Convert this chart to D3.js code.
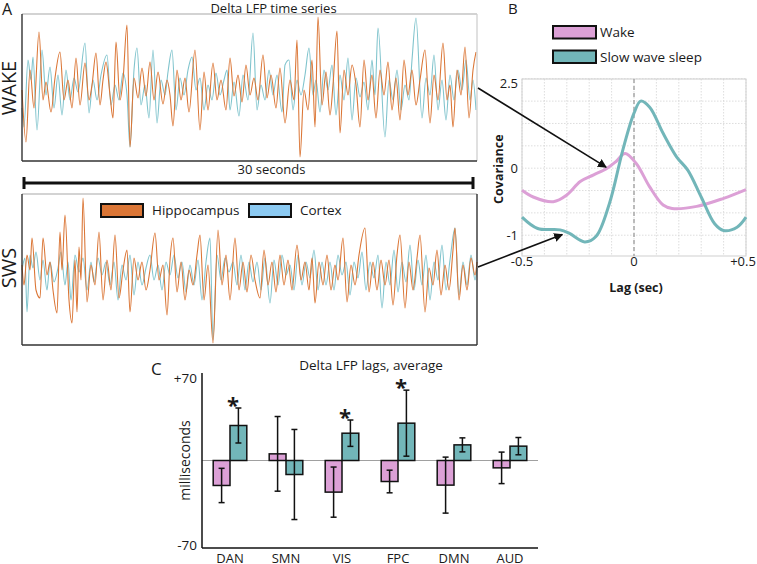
<!DOCTYPE html>
<html><head><meta charset="utf-8">
<script src="https://cdn.jsdelivr.net/npm/d3@7"></script>
<style>
body{margin:0;background:#fff}
svg{display:block}
text{font-family:'Open Sans',sans-serif;fill:#1a1a1a}
</style>
</head><body>
<svg id="c" width="757" height="564"></svg>
<script>
// ---------------- DATA ----------------
// Panel A: delta LFP traces, [sample index, amplitude]; 455 samples over 30 s
const lfpDuration = 30;
const lfpSamples = 455;
const wakeHippocampus = [[0,-2],[4,-54],[8,18],[12,-20],[17,56],[21,-12],[24,6],[29,-24],[33,10],[38,36],[42,-12],[46,8],[50,-20],[54,30],[58,-17],[63,25],[67,-12],[70,3],[74,35],[78,-17],[81,8],[84,26],[88,-7],[91,-30],[94,46],[98,-12],[101,8],[105,63],[108,-59],[112,10],[116,-10],[120,20],[124,-8],[128,26],[132,-12],[136,16],[141,-16],[145,8],[148,-7],[151,-38],[155,18],[159,-12],[163,10],[167,-24],[173,38],[178,-42],[182,16],[186,-22],[191,25],[195,-12],[199,8],[204,-22],[208,30],[212,-8],[216,13],[220,-14],[224,23],[228,-7],[232,10],[236,-12],[241,33],[245,-10],[249,13],[254,-20],[258,20],[263,-35],[268,8],[272,-12],[275,48],[278,-69],[282,-2],[286,-22],[290,28],[293,-39],[296,71],[300,-17],[304,16],[308,-27],[311,3],[315,57],[318,-45],[322,18],[326,-7],[330,23],[334,3],[338,-39],[342,28],[346,-12],[350,13],[354,-30],[358,18],[362,-7],[366,26],[370,-22],[374,10],[378,-32],[382,28],[386,-7],[390,18],[394,-17],[398,8],[403,38],[408,-35],[412,13],[416,-12],[421,45],[425,-12],[428,3],[431,-39],[435,18],[439,-7],[443,41],[447,-30],[451,18],[454,36]];
const wakeCortex = [[0,-20],[2,-39],[6,28],[9,8],[11,31],[15,-42],[20,38],[24,-7],[28,21],[32,-20],[36,13],[40,-27],[44,18],[48,-12],[52,10],[56,-4],[63,45],[67,-25],[71,8],[75,-12],[79,13],[85,33],[89,-17],[93,3],[97,-12],[101,15],[105,-7],[108,-59],[112,18],[115,40],[119,-17],[123,3],[127,-30],[131,38],[135,-35],[139,8],[143,-7],[146,16],[150,38],[154,-22],[158,10],[162,-7],[166,18],[170,31],[174,-2],[178,10],[182,-22],[186,3],[190,-12],[194,15],[198,-7],[202,8],[205,18],[208,-22],[212,6],[217,-28],[221,13],[226,-12],[231,55],[235,-22],[239,3],[243,-12],[247,18],[251,-7],[255,13],[260,-24],[263,23],[267,28],[271,-22],[275,8],[279,-7],[283,13],[287,40],[291,-7],[294,8],[298,-24],[302,18],[306,-2],[310,23],[314,-27],[318,13],[322,-12],[326,30],[330,-32],[334,10],[338,-9],[342,6],[346,-22],[350,28],[353,-7],[356,60],[363,-49],[367,8],[371,-12],[375,18],[379,-22],[383,3],[387,-12],[390,28],[394,70],[400,-30],[404,10],[408,-7],[412,33],[416,-22],[420,8],[424,-32],[428,13],[432,-12],[436,18],[440,-2],[444,28],[448,-12],[451,8],[454,-22]];
const swsHippocampus = [[0,3],[2,-17],[5,13],[8,-2],[10,30],[14,-22],[18,-30],[21,30],[25,-7],[28,6],[31,-22],[35,-45],[38,36],[40,-2],[43,53],[47,-32],[50,-55],[53,8],[55,-44],[57,21],[59,-12],[61,70],[65,-34],[69,3],[73,-17],[77,36],[81,-32],[85,8],[89,-22],[93,33],[97,-30],[101,-2],[105,18],[108,-44],[112,10],[116,-12],[120,6],[124,-22],[128,-2],[133,35],[137,-12],[141,3],[145,-47],[148,8],[151,30],[155,-24],[159,6],[163,-32],[167,-2],[171,-17],[175,13],[178,33],[182,-32],[186,3],[191,-75],[196,38],[200,-17],[204,13],[208,-32],[213,30],[217,-22],[221,6],[225,-24],[229,13],[233,-12],[238,-30],[242,18],[246,-17],[250,6],[254,-24],[258,13],[262,-17],[266,8],[270,-22],[275,23],[279,-12],[283,6],[287,-22],[290,10],[293,-35],[297,6],[301,-17],[305,13],[309,-22],[313,3],[316,-12],[321,30],[325,-34],[329,3],[333,-17],[337,13],[343,40],[347,-24],[351,6],[355,-22],[359,8],[363,-17],[367,8],[371,-37],[375,13],[378,33],[383,-40],[387,6],[391,-22],[395,10],[398,33],[403,-44],[407,0],[411,-17],[415,18],[419,-27],[423,3],[427,-22],[431,18],[433,40],[437,-32],[441,3],[445,-22],[449,10],[453,-7],[455,6]];
const swsCortex = [[0,-2],[3,10],[5,-44],[8,13],[11,0],[14,16],[18,-12],[21,8],[25,-22],[28,6],[32,-14],[36,0],[39,16],[43,-17],[46,6],[49,-32],[53,13],[57,-4],[61,10],[65,-22],[69,6],[72,-14],[76,10],[80,-7],[84,6],[88,-17],[92,6],[96,-32],[100,3],[104,-12],[108,13],[112,-27],[116,6],[120,-17],[124,0],[128,13],[132,-12],[136,3],[140,-22],[144,6],[148,-7],[152,13],[156,-10],[160,6],[164,-24],[168,3],[172,-17],[176,8],[180,-32],[184,6],[188,30],[191,-72],[195,13],[199,-12],[203,10],[207,-4],[211,6],[215,-17],[219,13],[223,-22],[227,6],[231,-14],[235,6],[239,-22],[243,10],[248,-35],[252,8],[256,-17],[260,13],[264,-7],[268,3],[272,-22],[276,13],[280,-17],[284,6],[288,-10],[292,18],[296,-22],[300,6],[304,-17],[308,6],[312,-22],[316,13],[320,-7],[324,6],[328,-27],[332,6],[336,-10],[340,16],[344,-22],[348,6],[352,-10],[356,13],[360,-40],[364,6],[368,-17],[372,18],[376,-24],[380,6],[384,-14],[388,23],[392,-22],[396,8],[400,-17],[404,13],[408,-32],[412,6],[416,-12],[420,23],[424,-22],[428,8],[433,40],[437,-27],[441,6],[445,-17],[449,13],[453,-12],[455,0]];
const traceLegend = ["Hippocampus", "Cortex"];

// Panel B: cross-covariance vs lag
const wakeLag = [-0.5,-0.45,-0.36,-0.3,-0.24,-0.18,-0.12,-0.08,-0.04,0.01,0.07,0.13,0.17,0.28,0.4,0.5];
const wakeCov = [-0.33,-0.43,-0.5,-0.4,-0.2,-0.1,0,0.1,0.22,0.07,-0.28,-0.55,-0.6,-0.57,-0.45,-0.32];
const swsLag = [-0.5,-0.43,-0.33,-0.29,-0.22,-0.17,-0.11,-0.05,0,0.03,0.07,0.13,0.19,0.24,0.3,0.36,0.4,0.46,0.5];
const swsCov = [-0.73,-0.9,-0.92,-0.97,-1.1,-1.02,-0.53,0.27,0.82,1.0,0.91,0.52,0.17,-0.03,-0.43,-0.83,-0.93,-0.88,-0.73];
const covLegend = ["Wake", "Slow wave sleep"];
const lagTicks = [-0.5, 0, 0.5];
const lagTickLabels = ["-0.5", "0", "+0.5"];
const covTicks = [-1, 0, 1.27];
const covTickLabels = ["-1", "0", "2.5"];

// Panel C: average lags (ms) per network
const networks = ["DAN","SMN","VIS","FPC","DMN","AUD"];
const wakeMs = [-21.4, 5.7, -27.1, -18, -21.1, -6.3];
const wakeErr = [14.7, 32, 21.5, 9.7, 24, 13.5];
const swsMs = [30, -12, 23.4, 32, 13.4, 12.3];
const swsErr = [15, 38.6, 11.3, 28.3, 6, 7.4];
const significant = [true, false, true, true, false, false];
const msTicks = [70, -70];
const msTickLabels = ["+70", "-70"];

// ---------------- DRAW ----------------
const ORANGE = "#db7636", CYAN = "#80c4cd", SKY = "#8ccaf2", PINK = "#dca0d6", TEAL = "#72b6b9";
const svg = d3.select("#c");
const defs = svg.append("defs");
defs.append("marker").attr("id","ah").attr("viewBox","0 0 10 10").attr("refX",9).attr("refY",5)
  .attr("markerWidth",9).attr("markerHeight",9).attr("orient","auto").attr("markerUnits","userSpaceOnUse")
  .append("path").attr("d","M0,0 L10,5 L0,10 z").attr("fill","#111");

function label(t, x, y, size, opts={}) {
  const el = svg.append("text").attr("x", x).attr("y", y).attr("font-size", size).text(t);
  if (opts.anchor) el.attr("text-anchor", opts.anchor);
  if (opts.bold) el.attr("font-weight", "bold");
  if (opts.rotate) el.attr("transform", `rotate(-90,${x},${y})`);
  return el;
}

// ---- Panel A ----
const xA = d3.scaleLinear().domain([0, lfpDuration]).range([22, 477]);
const yWake = d3.scaleLinear().domain([-73, 74]).range([161, 14]);
const ySws = d3.scaleLinear().domain([-77, 74]).range([345, 194]);
const toSec = s => s / lfpSamples * lfpDuration;

function trace(data, y, color) {
  const line = d3.line().x(d => xA(toSec(d[0]))).y(d => y(d[1])).curve(d3.curveMonotoneX);
  svg.append("path").datum(data).attr("d", line).attr("fill","none")
    .attr("stroke", color).attr("stroke-width", 1.1).attr("stroke-linejoin","round");
}
function box(y, rightColor) {
  const [x0, x1] = xA.range();
  const [y1, y0] = y.range();
  svg.append("line").attr("x1",x0).attr("x2",x1).attr("y1",y0).attr("y2",y0).attr("stroke","#c4c4c4").attr("stroke-width",1.5);
  svg.append("line").attr("x1",x1).attr("x2",x1).attr("y1",y0).attr("y2",y1).attr("stroke",rightColor).attr("stroke-width",1.3);
  svg.append("line").attr("x1",x0).attr("x2",x0).attr("y1",y0).attr("y2",y1).attr("stroke","#222").attr("stroke-width",1.3);
  svg.append("line").attr("x1",x0).attr("x2",x1).attr("y1",y1).attr("y2",y1).attr("stroke","#333").attr("stroke-width",1.3);
}
trace(wakeCortex, yWake, CYAN);
trace(wakeHippocampus, yWake, ORANGE);
trace(swsCortex, ySws, CYAN);
trace(swsHippocampus, ySws, ORANGE);
box(yWake, "#d0d0d0");
box(ySws, "#222");

label("A", 2, 15, 16);
label("Delta LFP time series", xA(lfpDuration/2) + 24, 13, 13, {anchor:"middle"});
label("WAKE", 16, yWake(0), 20, {anchor:"middle", rotate:true});
label("SWS", 16, ySws(0), 20, {anchor:"middle", rotate:true});

// 30 s scale bar
const sbY = 183;
svg.append("line").attr("x1", xA(0)+2).attr("x2", xA(lfpDuration)-4).attr("y1", sbY).attr("y2", sbY).attr("stroke","#111").attr("stroke-width",3);
[xA(0)+2, xA(lfpDuration)-4].forEach(x => svg.append("line").attr("x1",x).attr("x2",x).attr("y1",sbY-6).attr("y2",sbY+6).attr("stroke","#111").attr("stroke-width",3));
label("30 seconds", xA(lfpDuration/2) + 22, 174, 13, {anchor:"middle"});

// trace legend
const legA = [{x:101, c:ORANGE},{x:249, c:SKY}];
traceLegend.forEach((t,i) => {
  svg.append("rect").attr("x", legA[i].x).attr("y", 204).attr("width", 42).attr("height", 13)
    .attr("fill", legA[i].c).attr("stroke","#111").attr("stroke-width",2);
  label(t, legA[i].x + 51, 215, 13.5);
});

// ---- Panel B ----
const xB = d3.scaleLinear().domain([-0.5, 0.5]).range([522, 746]);
const yB = d3.scaleLinear().domain([-1.31, 1.33]).range([256, 79]);
const gB = svg.append("g");
d3.range(-5, 6).forEach(k => {
  const x = xB(k/10);
  gB.append("line").attr("x1",x).attr("x2",x).attr("y1",yB.range()[1]).attr("y2",yB.range()[0])
    .attr("stroke","#d4d4d4").attr("stroke-width",0.8).attr("stroke-dasharray","1.5,1.5");
});
d3.range(-3, 5).forEach(k => {
  const y = yB(k/3);
  gB.append("line").attr("x1",xB.range()[0]).attr("x2",xB.range()[1]).attr("y1",y).attr("y2",y)
    .attr("stroke","#d4d4d4").attr("stroke-width",0.8).attr("stroke-dasharray","1.5,1.5");
});
gB.append("rect").attr("x",xB.range()[0]).attr("y",yB.range()[1]).attr("width",xB.range()[1]-xB.range()[0])
  .attr("height",yB.range()[0]-yB.range()[1]).attr("fill","none").attr("stroke","#cfcfcf").attr("stroke-width",1);
gB.append("line").attr("x1",xB(0)).attr("x2",xB(0)).attr("y1",yB.range()[1]).attr("y2",yB.range()[0])
  .attr("stroke","#a8a8a8").attr("stroke-width",1.5).attr("stroke-dasharray","4,3");

const covLine = d3.line().curve(d3.curveCatmullRom.alpha(0.5));
gB.append("path").attr("d", covLine(wakeLag.map((l,i)=>[xB(l), yB(wakeCov[i])])))
  .attr("fill","none").attr("stroke",PINK).attr("stroke-width",3);
gB.append("path").attr("d", covLine(swsLag.map((l,i)=>[xB(l), yB(swsCov[i])])))
  .attr("fill","none").attr("stroke",TEAL).attr("stroke-width",3);

lagTicks.forEach((v,i) => label(lagTickLabels[i], xB(v) + (i===2 ? -3 : 0), 266, 13, {anchor:"middle"}));
covTicks.forEach((v,i) => label(covTickLabels[i], 518, yB(v) + 5, 13, {anchor:"end"}));
label("Lag (sec)", xB(0) + 2, 292, 12.5, {anchor:"middle", bold:true});
label("Covariance", 503, yB(0) + 1, 12.5, {anchor:"middle", bold:true, rotate:true});
label("B", 508, 14, 15);

[PINK, TEAL].forEach((c,i) => {
  svg.append("rect").attr("x",553).attr("y", 26 + i*24.5).attr("width",43).attr("height",12.5)
    .attr("fill", c).attr("stroke","#111").attr("stroke-width",2);
  label(covLegend[i], 600, 37 + i*24.5, 13.5);
});

// arrows from traces to covariance curves
svg.append("line").attr("x1", xA.range()[1] + 1).attr("y1", yWake(0))
  .attr("x2", xB(-0.12) - 1).attr("y2", yB(0) - 1)
  .attr("stroke","#111").attr("stroke-width",1.6).attr("marker-end","url(#ah)");
svg.append("line").attr("x1", xA.range()[1] + 1).attr("y1", ySws(0) - 1)
  .attr("x2", xB(-0.32)).attr("y2", yB(-0.99))
  .attr("stroke","#111").attr("stroke-width",1.6).attr("marker-end","url(#ah)");

// ---- Panel C ----
const xC = d3.scaleBand().domain(networks).range([202, 538]).paddingInner(0.4).paddingOuter(0.2);
const xSub = d3.scaleBand().domain(["wake","sws"]).range([0, xC.bandwidth()]);
const yC = d3.scaleLinear().domain([-75, 75]).range([548, 373]);
const gC = svg.append("g");
gC.append("line").attr("x1",202).attr("x2",538).attr("y1",yC(0)).attr("y2",yC(0)).attr("stroke","#888").attr("stroke-width",0.8);

const series = [
  {key:"wake", vals:wakeMs, err:wakeErr, color:PINK},
  {key:"sws", vals:swsMs, err:swsErr, color:TEAL}
];
series.forEach(s => {
  networks.forEach((n,i) => {
    const x = xC(n) + xSub(s.key);
    const v = s.vals[i];
    gC.append("rect").attr("x", x).attr("width", xSub.bandwidth())
      .attr("y", yC(Math.max(0,v))).attr("height", Math.abs(yC(v)-yC(0)))
      .attr("fill", s.color).attr("stroke","#111").attr("stroke-width",1.5);
  });
});
series.forEach(s => {
  networks.forEach((n,i) => {
    const cx = xC(n) + xSub(s.key) + xSub.bandwidth()/2;
    const lo = yC(s.vals[i] - s.err[i]), hi = yC(s.vals[i] + s.err[i]);
    gC.append("line").attr("x1",cx).attr("x2",cx).attr("y1",lo).attr("y2",hi).attr("stroke","#111").attr("stroke-width",1.5);
    [lo,hi].forEach(y => gC.append("line").attr("x1",cx-3).attr("x2",cx+3).attr("y1",y).attr("y2",y).attr("stroke","#111").attr("stroke-width",1.5));
  });
});
networks.forEach((n,i) => {
  if (significant[i]) {
    const y = yC(swsMs[i] + swsErr[i]);
    label("*", xC(n) + xC.bandwidth()/2 + 3, y + 5, 22, {anchor:"middle", bold:true});
  }
  label(n, xC(n) + xC.bandwidth()/2, 563, 13, {anchor:"middle"});
});
gC.append("line").attr("x1",202).attr("x2",202).attr("y1",373).attr("y2",548).attr("stroke","#111").attr("stroke-width",1.5);
gC.append("line").attr("x1",202).attr("x2",538).attr("y1",548).attr("y2",548).attr("stroke","#111").attr("stroke-width",1.5);
msTicks.forEach((v,i) => label(msTickLabels[i], 197, yC(v) + (v>0 ? 4 : 8), 13.5, {anchor:"end"}));
label("milliseconds", 190, yC(0), 14, {anchor:"middle", rotate:true});
label("Delta LFP lags, average", 371, 370, 13.5, {anchor:"middle"});
label("C", 151, 375, 17);
</script>
</body></html>
